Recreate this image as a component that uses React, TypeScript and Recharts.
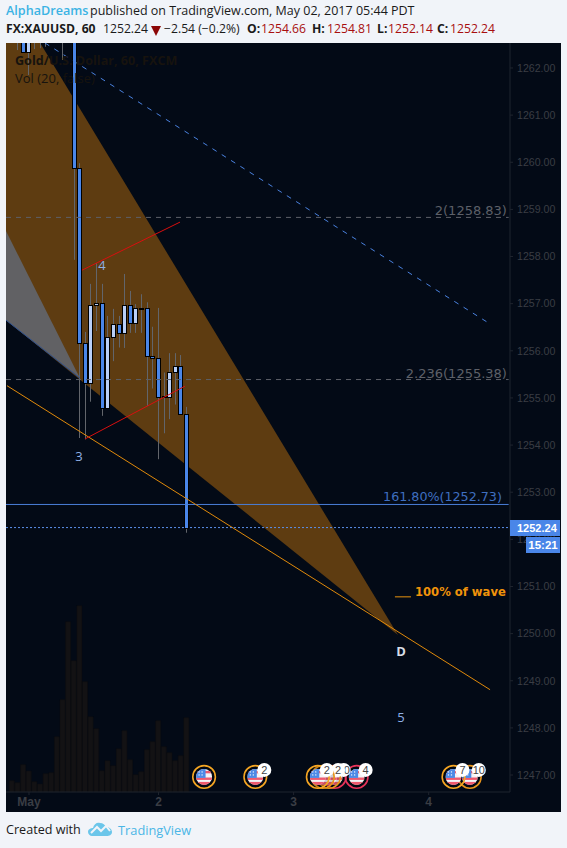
import React from "react";
import {
  ComposedChart, Bar, Area, XAxis, YAxis, ReferenceLine, ReferenceDot,
} from "recharts";

const FONT = "'Open Sans', sans-serif";
const AXIS_FONT = "'Liberation Sans', sans-serif";

// bar slots (hourly), 0 = May 1 open
const slots = [-3,-2,-1,0,1,2,3,4,5,6,7,8,9,10,11,12,13,14,15,16,17,18,19,20,21,22,23,24,25,26,27,28];
const opens = [1263.3,1263.4,1264.0,1262.34,1263.4,1263.3,1263.5,1263.6,1263.7,1263.4,1263.6,1263.6,1259.88,1256.16,1255.31,1256.97,1257.01,1254.78,1256.29,1256.56,1256.37,1256.97,1256.59,1256.90,1256.90,1255.88,1255.84,1255.04,1255.03,1255.56,1255.67,1254.65];
const closes = [1263.1,1263.3,1262.34,1263.5,1263.2,1263.5,1263.4,1263.7,1263.4,1263.6,1263.8,1259.88,1256.16,1255.31,1256.97,1257.01,1254.78,1256.29,1256.56,1256.37,1256.97,1256.59,1256.90,1256.88,1255.88,1255.84,1255.03,1255.03,1255.56,1255.67,1254.65,1252.24];
const highs = [1263.6,1263.7,1264.2,1263.8,1263.6,1263.7,1263.7,1263.9,1263.9,1263.8,1264.0,1263.8,1259.98,1256.40,1257.42,1257.86,1257.42,1256.74,1256.89,1256.74,1257.63,1257.27,1256.99,1257.20,1257.03,1256.51,1256.91,1255.54,1255.95,1255.95,1255.91,1254.81];
const lows = [1262.9,1262.38,1262.34,1261.85,1262.40,1262.42,1262.45,1263.0,1263.1,1262.17,1263.0,1257.93,1254.15,1254.12,1254.92,1256.42,1254.62,1254.78,1255.78,1256.07,1256.06,1256.38,1256.38,1256.38,1254.83,1255.20,1253.70,1254.25,1254.55,1254.86,1254.65,1252.14];
const volumes = [11.3,9.3,27.3,21,10.3,8,18.3,19.3,55.3,92.3,170.3,131.3,186.3,110.3,75.3,63.3,21.3,31.3,26.3,43.3,61.3,32.3,17.3,20.3,42.3,50.3,71.3,45.3,39.3,31.3,36.3,74.3];

const rows = slots.map((x, i) => ({
  x,
  open: opens[i],
  close: closes[i],
  range: [lows[i], highs[i]],
  volume: volumes[i],
}));

const X_MIN = -4.085;
const X_MAX = 85.44;
const Y_MIN = 1246.64;
const Y_MAX = 1262.53;

const priceTicks = [1247,1248,1249,1250,1251,1252,1253,1254,1255,1256,1257,1258,1259,1260,1261,1262];
const timeTicks = [0, 23, 47, 71];
const timeLabels: Record<number, string> = { 0: "May", 23: "2", 47: "3", 71: "4" };

const wedge = [
  { x: X_MIN, band: [1256.65, 1263.73] },
  { x: 65.54, band: [1249.97, 1249.97] },
];
const grayWedge = [
  { x: X_MIN, band: [1256.65, 1258.54] },
  { x: 9.06, band: [1255.42, 1255.42] },
];

const events = [
  { x: 78.3, ring: "#e8941a", badge: "10" },
  { x: 75.4, ring: "#f5a623", badge: "7" },
  { x: 58.2, ring: "#e8335a", badge: "4" },
  { x: 54.3, ring: "#e8335a", badge: "10" },
  { x: 53.3, ring: "#e8941a", badge: "2" },
  { x: 52.2, ring: "#e8941a", badge: "" },
  { x: 51.3, ring: "#f5a623", badge: "2" },
  { x: 40.2, ring: "#f5a623", badge: "2" },
  { x: 31.1, ring: "#f5a623", badge: "" },
];
const EVENT_PRICE = 1246.96;

const notes = [
  { x: 12.97, y: 1257.82, text: "4", fill: "#8fb0e6" },
  { x: 8.88, y: 1253.77, text: "3", fill: "#8fb0e6" },
  { x: 66.07, y: 1249.63, text: "D", fill: "#d8dde6" },
  { x: 66.07, y: 1248.23, text: "5", fill: "#8fb0e6" },
];

const Candle = (p: any) => {
  const { x, y, width, height, payload } = p;
  if (!payload || !height) return null;
  const [low, high] = payload.range;
  const k = height / (high - low);
  const cx = Math.floor(x + width / 2) + 0.5;
  const yOf = (v: number) => y + (high - v) * k;
  const top = Math.round(yOf(Math.max(payload.open, payload.close))) + 0.5;
  const bot = Math.round(yOf(Math.min(payload.open, payload.close))) + 0.5;
  const up = payload.close >= payload.open;
  return (
    <g>
      <line x1={cx} x2={cx} y1={y} y2={y + height} stroke="#62656b" strokeWidth={1} />
      <rect
        x={cx - 2}
        y={top}
        width={4}
        height={Math.max(bot - top, 1)}
        fill={up ? "#b9cff7" : "#4a86e8"}
        stroke="#000"
        strokeWidth={1}
      />
    </g>
  );
};

const Flag = ({ cx, cy, ring, badge, id }: any) => {
  const r = 8;
  return (
    <g>
      <circle cx={cx} cy={cy} r={11.3} fill="#000" fillOpacity={0.15} stroke={ring} strokeWidth={1.6} />
      <clipPath id={id}><circle cx={cx} cy={cy} r={r} /></clipPath>
      <g clipPath={`url(#${id})`}>
        <rect x={cx - r} y={cy - r} width={2 * r} height={2 * r} fill="#f4f4f6" />
        <rect x={cx - r} y={cy - r + 2} width={2 * r} height={2.4} fill="#ee5a6e" />
        <rect x={cx - r} y={cy + 0.6} width={2 * r} height={2.4} fill="#ee5a6e" />
        <rect x={cx - r} y={cy + 5} width={2 * r} height={3.6} fill="#ee5a6e" />
        <rect x={cx - r} y={cy - r} width={9.5} height={9} fill="#4d8ae6" />
        <circle cx={cx - 5} cy={cy - 5} r={0.7} fill="#fff" />
        <circle cx={cx - 2} cy={cy - 5} r={0.7} fill="#fff" />
        <circle cx={cx - 5} cy={cy - 2} r={0.7} fill="#fff" />
        <circle cx={cx - 2} cy={cy - 2} r={0.7} fill="#fff" />
      </g>
      {badge ? (
        <g>
          <circle cx={cx + 9} cy={cy - 7} r={7} fill="#fff" />
          <text x={cx + 9} y={cy - 3} textAnchor="middle" fontSize={11} fill="#444" fontFamily={AXIS_FONT}>{badge}</text>
        </g>
      ) : null}
    </g>
  );
};

const abs = (left: number, top: number, extra: React.CSSProperties = {}): React.CSSProperties => ({
  position: "absolute", left, top, whiteSpace: "nowrap", lineHeight: "16px", ...extra,
});

const RED = "#a80e0e";
const INK = "#1a1a1a";
const ROW2 = 12.2;

export default function App() {
  return (
    <div style={{ position: "absolute", left: 0, top: 0, width: 567, height: 848, background: "#f1f4f9", overflow: "hidden", fontFamily: FONT, color: INK }}>
      <span style={abs(6, 3, { fontSize: 12.6, fontWeight: 600, color: "#3bb3e4" })}>AlphaDreams</span>
      <span style={abs(90, 3, { fontSize: 12.5 })}>published on TradingView.com, May 02, 2017 05:44 PDT</span>

      <span style={abs(6, 21, { fontSize: ROW2, fontWeight: 700 })}>FX:XAUUSD, 60</span>
      <span style={abs(103, 21, { fontSize: ROW2 })}>1252.24</span>
      <span style={{ position: "absolute", left: 151, top: 26, width: 0, height: 0, borderLeft: "5px solid transparent", borderRight: "5px solid transparent", borderTop: "10px solid #8c0606" }} />
      <span style={abs(164, 21, { fontSize: ROW2 })}>−2.54 (−0.2%)</span>
      <span style={abs(247, 21, { fontSize: ROW2, fontWeight: 700 })}>O:</span>
      <span style={abs(261, 21, { fontSize: ROW2, color: RED })}>1254.66</span>
      <span style={abs(312, 21, { fontSize: ROW2, fontWeight: 700 })}>H:</span>
      <span style={abs(327, 21, { fontSize: ROW2, color: RED })}>1254.81</span>
      <span style={abs(377, 21, { fontSize: ROW2, fontWeight: 700 })}>L:</span>
      <span style={abs(388, 21, { fontSize: ROW2, color: RED })}>1252.14</span>
      <span style={abs(437, 21, { fontSize: ROW2, fontWeight: 700 })}>C:</span>
      <span style={abs(450, 21, { fontSize: ROW2, color: RED })}>1252.24</span>

      <div style={{ position: "absolute", left: 6, top: 43, width: 555, height: 769, background: "#030a16", overflow: "hidden" }}>
        <ComposedChart width={555} height={769} data={rows} margin={{ top: 0, right: 0, bottom: 0, left: 0 }}>
          <XAxis
            dataKey="x"
            type="number"
            domain={[X_MIN, X_MAX]}
            allowDataOverflow
            ticks={timeTicks}
            tickFormatter={(v: number) => timeLabels[v] ?? ""}
            interval={0}
            height={20}
            stroke="#1f242e"
            tickSize={3}
            tick={{ fill: "#3a3d44", fontSize: 12, fontFamily: AXIS_FONT, fontWeight: 700 }}
          />
          <XAxis xAxisId="vol" dataKey="x" type="number" domain={[X_MIN, X_MAX]} allowDataOverflow hide />
          <YAxis
            orientation="right"
            type="number"
            domain={[Y_MIN, Y_MAX]}
            allowDataOverflow
            ticks={priceTicks}
            tickFormatter={(v: number) => v.toFixed(2)}
            interval={0}
            width={51}
            stroke="#1f242e"
            tickSize={3}
            tickMargin={4}
            tick={{ fill: "#3a3d44", fontSize: 10.6, fontFamily: AXIS_FONT }}
          />
          <YAxis yAxisId="vol" type="number" domain={[0, 749]} hide />

          <Bar xAxisId="vol" yAxisId="vol" dataKey="volume" barSize={6} fill="#131214" stroke="#0e0e11" strokeWidth={0.5} isAnimationActive={false} />
          <Area data={wedge} dataKey="band" type="linear" fill="#5e3c11" fillOpacity={1} stroke="none" dot={false} activeDot={false} isAnimationActive={false} />
          <Area data={grayWedge} dataKey="band" type="linear" fill="#616164" fillOpacity={1} stroke="none" dot={false} activeDot={false} isAnimationActive={false} />

          <ReferenceLine ifOverflow="hidden" segment={[{ x: X_MIN, y: 1256.65 }, { x: 9.06, y: 1255.42 }]} stroke="#2a4f90" strokeWidth={1} />
          <ReferenceLine ifOverflow="hidden" segment={[{ x: X_MIN, y: 1258.83 }, { x: 85.2, y: 1258.83 }]} stroke="#5d6068" strokeDasharray="5 5" strokeWidth={1} />
          <ReferenceLine ifOverflow="hidden" segment={[{ x: X_MIN, y: 1255.39 }, { x: 85.2, y: 1255.39 }]} stroke="#5d6068" strokeDasharray="5 5" strokeWidth={1} />
          <ReferenceLine ifOverflow="hidden" segment={[{ x: X_MIN, y: 1252.74 }, { x: 85.2, y: 1252.74 }]} stroke="#4a7fd8" strokeWidth={1} />
          <ReferenceLine ifOverflow="hidden" segment={[{ x: 2.84, y: 1262.53 }, { x: 81.9, y: 1256.57 }]} stroke="#4a82e0" strokeDasharray="5 6" strokeWidth={1} />
          <ReferenceLine ifOverflow="hidden" segment={[{ x: -3.91, y: 1255.26 }, { x: 81.9, y: 1248.81 }]} stroke="#e08a0b" strokeWidth={1} />
          <ReferenceLine ifOverflow="hidden" segment={[{ x: 9.41, y: 1257.71 }, { x: 26.82, y: 1258.73 }]} stroke="#d90f0f" strokeWidth={1} />
          <ReferenceLine ifOverflow="hidden" segment={[{ x: 9.95, y: 1254.13 }, { x: 27.71, y: 1255.25 }]} stroke="#d90f0f" strokeWidth={1} />
          <ReferenceLine ifOverflow="hidden" segment={[{ x: 65.0, y: 1250.78 }, { x: 67.85, y: 1250.78 }]} stroke="#e8930f" strokeWidth={1} />

          <Bar dataKey="range" barSize={6} shape={Candle} isAnimationActive={false} />

          <ReferenceLine ifOverflow="hidden" segment={[{ x: X_MIN, y: 1252.25 }, { x: X_MAX, y: 1252.25 }]} stroke="#5b8fe8" strokeDasharray="2 2" strokeWidth={1} />

          {notes.map((n) => (
            <ReferenceDot key={n.text} x={n.x} y={n.y} r={0} fill="none" stroke="none"
              label={{ value: n.text, position: "center", fill: n.fill, fontSize: 13, fontFamily: FONT, fontWeight: n.text === "D" ? 700 : 400 }} />
          ))}
          <ReferenceDot x={84.9} y={1258.97} r={0} fill="none" stroke="none"
            label={{ value: "2(1258.83)", position: "left", offset: 0, fill: "#5d6068", fontSize: 13, fontFamily: "'DejaVu Sans', sans-serif" }} />
          <ReferenceDot x={84.9} y={1255.53} r={0} fill="none" stroke="none"
            label={{ value: "2.236(1255.38)", position: "left", offset: 0, fill: "#5d6068", fontSize: 13, fontFamily: "'DejaVu Sans', sans-serif" }} />
          <ReferenceDot x={84.0} y={1252.90} r={0} fill="none" stroke="none"
            label={{ value: "161.80%(1252.73)", position: "left", offset: 0, fill: "#3f6fc0", fontSize: 12.7, fontFamily: "'DejaVu Sans', sans-serif" }} />
          <ReferenceDot x={68.56} y={1250.88} r={0} fill="none" stroke="none"
            label={{ value: "100% of wave", position: "right", offset: 0, fill: "#f0930a", fontSize: 11.6, fontWeight: 700, fontFamily: "'DejaVu Sans', sans-serif" }} />

          {events.map((e, i) => (
            <ReferenceDot key={i} x={e.x} y={EVENT_PRICE} r={0} fill="none" stroke="none"
              shape={(p: any) => <Flag cx={p.cx} cy={p.cy} ring={e.ring} badge={e.badge} id={`flag${i}`} />} />
          ))}
        </ComposedChart>
      </div>

      <span style={abs(15, 53, { fontSize: 12.6, fontWeight: 700, color: "#17130e" })}>Gold/U.S. Dollar, 60, FXCM</span>
      <span style={abs(15, 70, { fontSize: 13, color: "#17130e" })}>Vol (20, false)</span>

      <div style={{ position: "absolute", left: 510, top: 520, width: 50, height: 16, background: "#4a86e8", color: "#fff", fontSize: 11, fontWeight: 700, fontFamily: AXIS_FONT, lineHeight: "16px" }}>
        <span style={{ position: "absolute", left: 7 }}>1252.24</span>
      </div>
      <div style={{ position: "absolute", left: 526, top: 537, width: 34, height: 16, background: "#4a86e8", color: "#fff", fontSize: 11.5, fontWeight: 700, fontFamily: AXIS_FONT, lineHeight: "16px", textAlign: "center" }}>15:21</div>

      <span style={abs(6, 822, { fontSize: 12.6 })}>Created with</span>
      <svg style={{ position: "absolute", left: 87, top: 821 }} width={26} height={16} viewBox="0 0 26 16">
        <path d="M1 11 C1 8 4 7 6 7 C7 3 10 1 13 2 C16 2 18 4 19 6 C22 6 25 8 25 11 C25 14 22 15 20 15 L5 15 C3 15 1 13 1 11 Z" fill="#6bc6ea" />
        <path d="M4 12 L10 6 L14 10 L19 5 L23 10" fill="none" stroke="#f1f4f9" strokeWidth={2} />
      </svg>
      <span style={abs(118, 822, { fontSize: 12.8, color: "#4bb6e6" })}>TradingView</span>
    </div>
  );
}
